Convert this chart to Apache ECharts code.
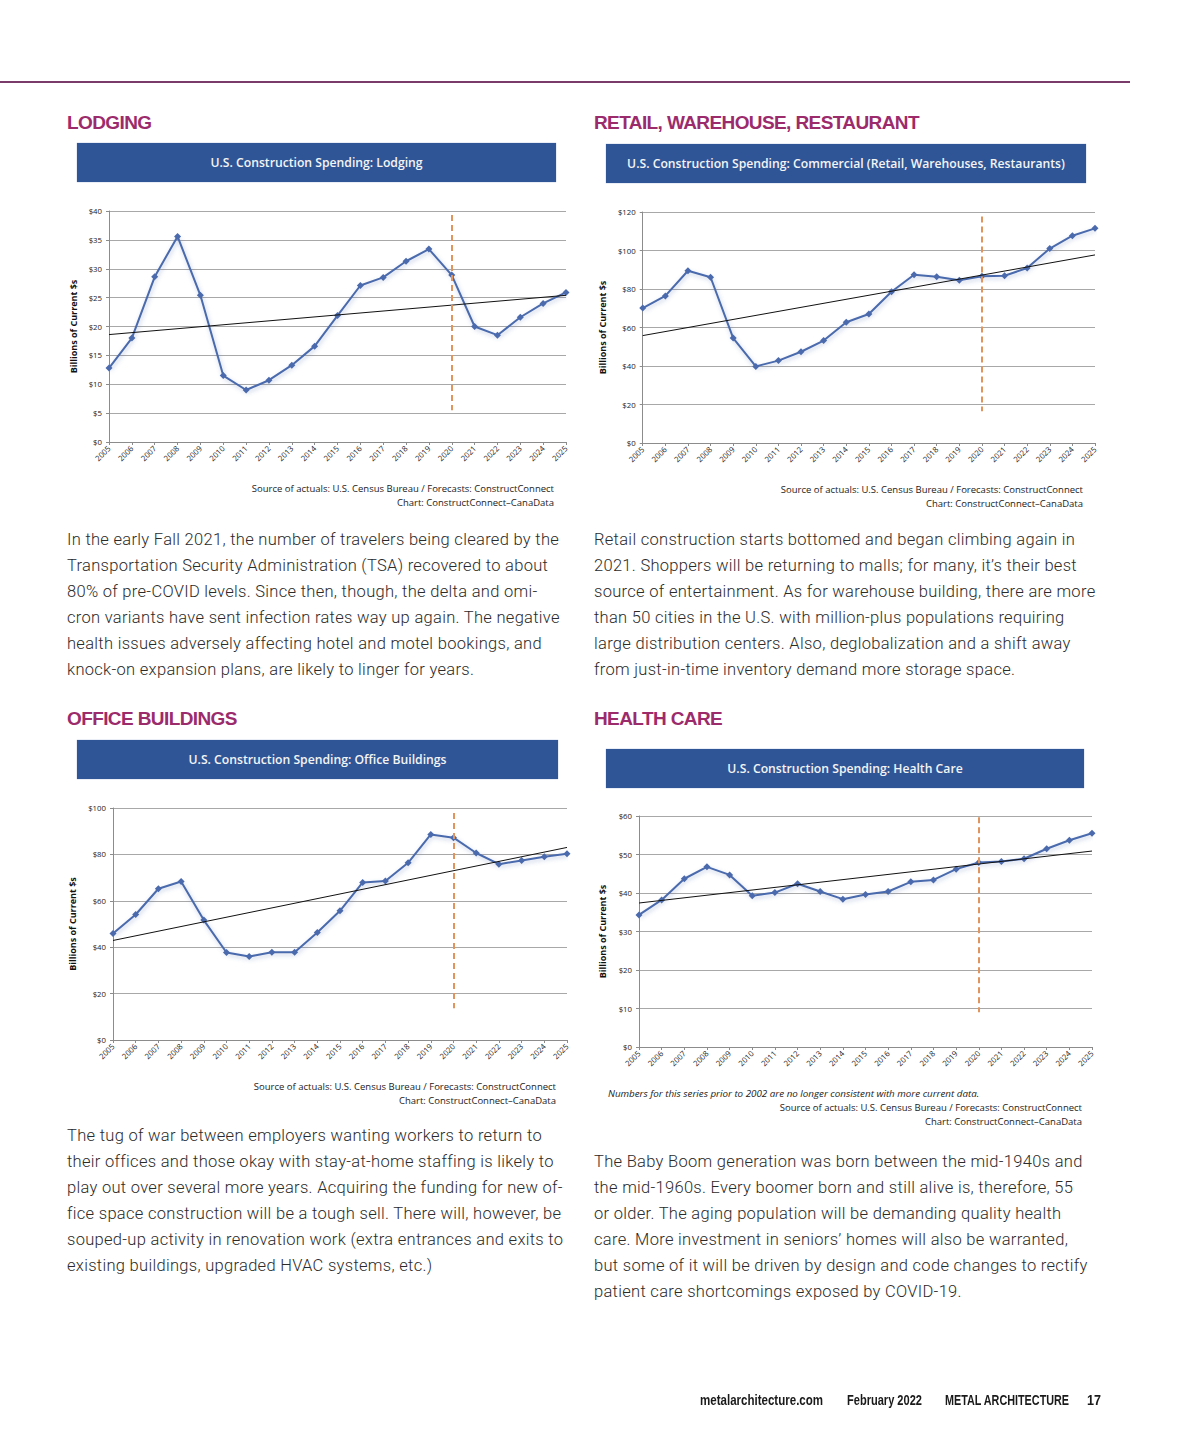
<!DOCTYPE html>
<html><head><meta charset="utf-8">
<script src="https://cdn.jsdelivr.net/npm/echarts@6/dist/echarts.min.js"></script>
<style>
html,body{margin:0;padding:0;background:#fff}
body{width:1200px;height:1450px;position:relative;overflow:hidden}
.rule{position:absolute;left:0;top:81px;width:1130px;height:2px;background:#7b3b6a}
.head{position:absolute;font-family:'Liberation Sans',Arial,sans-serif;font-weight:bold;font-size:19px;color:#9c2b6c;letter-spacing:-0.6px;line-height:20px;white-space:nowrap}
.banner{position:absolute;background:#2f5597;color:#f4f4f4;font-family:'Open Sans',sans-serif;font-weight:600;font-size:12.2px;display:flex;align-items:center;justify-content:center;box-shadow:0 0 1px #7d95c0;white-space:nowrap}
.src{position:absolute;font-family:'Open Sans',sans-serif;font-size:9.5px;color:#222;text-align:right;line-height:14px;white-space:nowrap}
.note{position:absolute;font-family:'Open Sans',sans-serif;font-style:italic;font-size:9.8px;color:#222;line-height:14px;white-space:nowrap}
.para{position:absolute;font-family:Roboto,sans-serif;font-weight:300;font-size:16.5px;letter-spacing:0.3px;line-height:26px;color:#2b2b2b;white-space:nowrap}
.chart{position:absolute}
.foot{position:absolute;top:1390px;font-family:'Liberation Sans',Arial,sans-serif;font-weight:bold;font-size:15.5px;color:#1a1a1a;line-height:20px;white-space:nowrap;display:inline-block;transform-origin:0 50%}
</style></head>
<body>
<div class="rule"></div>

<div class="head" style="left:67px;top:113px">LODGING</div>
<div class="head" style="left:594px;top:113px">RETAIL, WAREHOUSE, RESTAURANT</div>
<div class="head" style="left:67px;top:709px">OFFICE BUILDINGS</div>
<div class="head" style="left:594px;top:709px">HEALTH CARE</div>

<div class="banner" style="left:77px;top:143px;width:479px;height:39px">U.S. Construction Spending: Lodging</div>
<div class="banner" style="left:606px;top:144px;width:480px;height:39px">U.S. Construction Spending: Commercial (Retail, Warehouses, Restaurants)</div>
<div class="banner" style="left:77px;top:740px;width:481px;height:39px">U.S. Construction Spending: Office Buildings</div>
<div class="banner" style="left:606px;top:749px;width:478px;height:39px">U.S. Construction Spending: Health Care</div>

<div id="c1" class="chart" style="left:60px;top:195px;width:520px;height:280px"></div>
<div id="c2" class="chart" style="left:590px;top:195px;width:520px;height:280px"></div>
<div id="c3" class="chart" style="left:60px;top:795px;width:520px;height:280px"></div>
<div id="c4" class="chart" style="left:590px;top:805px;width:520px;height:280px"></div>

<div class="src" style="right:646px;top:482px">Source of actuals: U.S. Census Bureau / Forecasts: ConstructConnect<br>Chart: ConstructConnect–CanaData</div>
<div class="src" style="right:117px;top:483px">Source of actuals: U.S. Census Bureau / Forecasts: ConstructConnect<br>Chart: ConstructConnect–CanaData</div>
<div class="src" style="right:644px;top:1080px">Source of actuals: U.S. Census Bureau / Forecasts: ConstructConnect<br>Chart: ConstructConnect–CanaData</div>
<div class="note" style="left:608px;top:1087px">Numbers for this series prior to 2002 are no longer consistent with more current data.</div>
<div class="src" style="right:118px;top:1101px">Source of actuals: U.S. Census Bureau / Forecasts: ConstructConnect<br>Chart: ConstructConnect–CanaData</div>

<div class="para" style="left:67px;top:527px">In the early Fall 2021, the number of travelers being cleared by the<br>Transportation Security Administration (TSA) recovered to about<br>80% of pre-COVID levels. Since then, though, the delta and omi-<br>cron variants have sent infection rates way up again. The negative<br>health issues adversely affecting hotel and motel bookings, and<br>knock-on expansion plans, are likely to linger for years.</div>
<div class="para" style="left:594px;top:527px">Retail construction starts bottomed and began climbing again in<br>2021. Shoppers will be returning to malls; for many, it’s their best<br>source of entertainment. As for warehouse building, there are more<br>than 50 cities in the U.S. with million-plus populations requiring<br>large distribution centers. Also, deglobalization and a shift away<br>from just-in-time inventory demand more storage space.</div>
<div class="para" style="left:67px;top:1123px">The tug of war between employers wanting workers to return to<br>their offices and those okay with stay-at-home staffing is likely to<br>play out over several more years. Acquiring the funding for new of-<br>fice space construction will be a tough sell. There will, however, be<br>souped-up activity in renovation work (extra entrances and exits to<br>existing buildings, upgraded HVAC systems, etc.)</div>
<div class="para" style="left:594px;top:1149px">The Baby Boom generation was born between the mid-1940s and<br>the mid-1960s. Every boomer born and still alive is, therefore, 55<br>or older. The aging population will be demanding quality health<br>care. More investment in seniors’ homes will also be warranted,<br>but some of it will be driven by design and code changes to rectify<br>patient care shortcomings exposed by COVID-19.</div>

<div class="foot" data-w="123" style="left:700px">metalarchitecture.com</div>
<div class="foot" data-w="75" style="left:847px">February 2022</div>
<div class="foot" data-w="124" style="left:945px">METAL ARCHITECTURE</div>
<div class="foot" data-w="14" style="left:1087px">17</div>

<script>
// fit condensed footer texts
document.querySelectorAll('.foot').forEach(el=>{
  const w = el.getBoundingClientRect().width;
  const t = parseFloat(el.dataset.w);
  if (w>0) el.style.transform = 'scaleX(' + (t/w).toFixed(3) + ')';
});

// ---- data ----
const years = ['2005','2006','2007','2008','2009','2010','2011','2012','2013','2014','2015','2016','2017','2018','2019','2020','2021','2022','2023','2024','2025'];

const lodgingValues = [12.8,18.0,28.6,35.6,25.4,11.5,9.0,10.7,13.3,16.6,21.9,27.1,28.5,31.3,33.4,28.9,20.0,18.5,21.6,24.0,25.9];
const lodgingTrend = [18.6,25.4];
const lodgingForecastLine = [39.3,5.5];
const lodgingTicks = {max:40, interval:5};

const retailValues = [70.1,76.4,89.5,86.1,54.5,39.8,42.8,47.4,53.2,62.7,67.0,78.6,87.4,86.4,84.5,86.6,86.9,90.9,101.0,107.7,111.5];
const retailTrend = [55.8,97.7];
const retailForecastLine = [117.7,16.5];
const retailTicks = {max:120, interval:20};

const officeValues = [45.9,54.1,65.2,68.3,51.7,37.7,36.0,37.8,37.8,46.3,55.7,67.9,68.5,76.4,88.6,87.2,80.6,75.8,77.4,79.0,80.3];
const officeTrend = [42.9,83.0];
const officeForecastLine = [97.8,13.7];
const officeTicks = {max:100, interval:20};

const healthValues = [34.3,38.2,43.7,46.8,44.7,39.3,40.1,42.4,40.4,38.4,39.6,40.4,42.9,43.4,46.2,47.9,48.2,48.9,51.5,53.7,55.5];
const healthTrend = [37.4,50.9];
const healthForecastLine = [59.7,9.0];
const healthTicks = {max:60, interval:10};

const forecastYear = '2020';

function build(el, values, trend, fline, ticks, grid, nameGap){
  const chart = echarts.init(document.getElementById(el), null, {renderer:'svg'});
  chart.setOption({
    animation:false,
    textStyle:{fontFamily:'Open Sans'},
    grid:grid,
    xAxis:{
      type:'category', data:years, boundaryGap:false,
      axisLine:{show:true,lineStyle:{color:'#8c8c8c',width:1}},
      axisTick:{show:true,alignWithLabel:true,length:3,lineStyle:{color:'#8c8c8c'}},
      axisLabel:{rotate:45,fontSize:7.8,color:'#222',margin:5,interval:0},
      splitLine:{show:false}
    },
    yAxis:{
      type:'value', min:0, max:ticks.max, interval:ticks.interval,
      name:'Billions of Current $s', nameLocation:'middle', nameRotate:90, nameGap:nameGap,
      nameTextStyle:{fontSize:9,fontWeight:'bold',color:'#111'},
      axisLine:{show:true,lineStyle:{color:'#8c8c8c',width:1}},
      axisTick:{show:true,length:3,lineStyle:{color:'#8c8c8c'}},
      axisLabel:{fontSize:7.8,color:'#222',margin:7,formatter:v=>'$'+v},
      splitLine:{show:true,lineStyle:{color:'#a8a8a8',width:1}}
    },
    series:[{
      type:'line', data:values,
      symbol:'diamond', symbolSize:7,
      itemStyle:{color:'#4a6aad'},
      lineStyle:{color:'#4a6aad',width:2,shadowColor:'rgba(74,106,173,0.35)',shadowBlur:4,shadowOffsetX:1,shadowOffsetY:2},
      z:3,
      markLine:{
        silent:true, symbol:['none','none'], label:{show:false},
        data:[
          [{coord:[years[0],trend[0]],lineStyle:{color:'#111',width:1,type:'solid'}},{coord:[years[years.length-1],trend[1]]}],
          [{coord:[forecastYear,fline[0]],lineStyle:{color:'#e0955f',width:2,type:[6,4]}},{coord:[forecastYear,fline[1]]}]
        ]
      }
    }]
  });
}

build('c1', lodgingValues, lodgingTrend, lodgingForecastLine, lodgingTicks, {left:49,top:16,width:457,height:231}, 31);
build('c2', retailValues, retailTrend, retailForecastLine, retailTicks, {left:52,top:17,width:453,height:231}, 34);
build('c3', officeValues, officeTrend, officeForecastLine, officeTicks, {left:53,top:13,width:454,height:232}, 35);
build('c4', healthValues, healthTrend, healthForecastLine, healthTicks, {left:48,top:11,width:454,height:231}, 32);
</script>
</body></html>
